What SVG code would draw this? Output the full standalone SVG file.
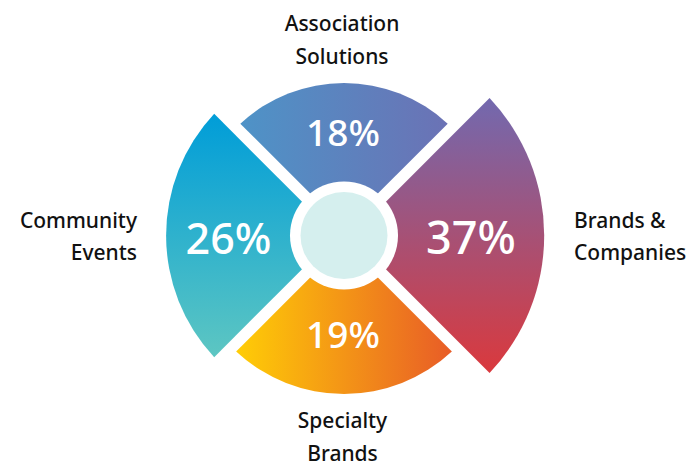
<svg xmlns="http://www.w3.org/2000/svg" width="696" height="469" viewBox="0 0 696 469">
  <style>
    .lbl { font-family: "Noto Sans", "Liberation Sans", sans-serif; font-size: 21px; font-weight: 500; fill: #111111; }
    .pct { font-family: "Noto Sans", "Liberation Sans", sans-serif; font-weight: 500; fill: #ffffff; text-anchor: middle; }
  </style>
  <defs>
    <linearGradient id="gTop" gradientUnits="userSpaceOnUse" x1="240" y1="0" x2="448" y2="0">
      <stop offset="0" stop-color="#4e93c7"/>
      <stop offset="1" stop-color="#6b72b5"/>
    </linearGradient>
    <linearGradient id="gRight" gradientUnits="userSpaceOnUse" x1="0" y1="98" x2="0" y2="373">
      <stop offset="0" stop-color="#7269af"/>
      <stop offset="1" stop-color="#da393d"/>
    </linearGradient>
    <linearGradient id="gBottom" gradientUnits="userSpaceOnUse" x1="236" y1="0" x2="452" y2="0">
      <stop offset="0" stop-color="#ffcd06"/>
      <stop offset="1" stop-color="#e85c27"/>
    </linearGradient>
    <linearGradient id="gLeft" gradientUnits="userSpaceOnUse" x1="0" y1="114" x2="0" y2="357">
      <stop offset="0" stop-color="#009dd8"/>
      <stop offset="1" stop-color="#5dc6c2"/>
    </linearGradient>
  </defs>
  <rect width="696" height="469" fill="#ffffff"/>

  <g id="association-solutions">
    <path d="M 344 227.37 L 240.31 123.67 A 152.5 152.5 0 0 1 447.69 123.67 Z" fill="url(#gTop)"/>
    <text class="pct" x="343" y="146" font-size="37">18%</text>
    <text class="lbl" x="342" y="30.5" text-anchor="middle">Association</text>
    <text class="lbl" x="342" y="63.5" text-anchor="middle">Solutions</text>
  </g>

  <g id="brands-companies">
    <path d="M 352.13 235.5 L 489.57 98.07 A 200.2 200.2 0 0 1 489.57 372.93 Z" fill="url(#gRight)"/>
    <text class="pct" x="471" y="254" font-size="45">37%</text>
    <text class="lbl" x="574" y="228">Brands &amp;</text>
    <text class="lbl" x="574" y="260">Companies</text>
  </g>

  <g id="specialty-brands">
    <path d="M 344 243.63 L 451.86 351.5 A 158.4 158.4 0 0 1 236.14 351.5 Z" fill="url(#gBottom)"/>
    <text class="pct" x="343" y="348" font-size="37">19%</text>
    <text class="lbl" x="342.5" y="428" text-anchor="middle">Specialty</text>
    <text class="lbl" x="342.5" y="461" text-anchor="middle">Brands</text>
  </g>

  <g id="community-events">
    <path d="M 335.87 235.5 L 214.2 357.16 A 177.9 177.9 0 0 1 214.2 113.84 Z" fill="url(#gLeft)"/>
    <text class="pct" x="228.5" y="254" font-size="43">26%</text>
    <text class="lbl" x="137" y="228" text-anchor="end">Community</text>
    <text class="lbl" x="137" y="260" text-anchor="end">Events</text>
  </g>

  <g id="center">
    <circle cx="344" cy="235.5" r="54" fill="#ffffff"/>
    <circle cx="344" cy="235.5" r="43.5" fill="#d5efee"/>
  </g>

  <g id="connectors"></g>
</svg>
